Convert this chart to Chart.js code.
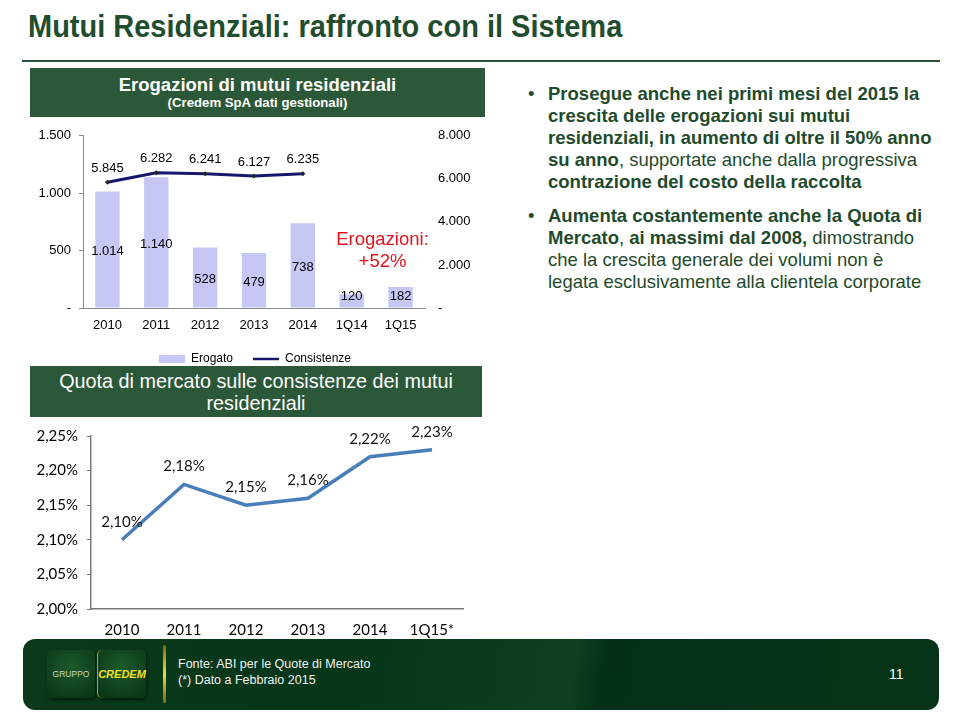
<!DOCTYPE html>
<html>
<head>
<meta charset="utf-8">
<script src="https://cdn.jsdelivr.net/npm/chart.js@4.4.1/dist/chart.umd.min.js"></script>
<style>
  html, body { margin:0; padding:0; background:#fff; }
  body { width:960px; height:720px; position:relative; overflow:hidden; font-family:"Liberation Sans", Arial, sans-serif; }
  .abs { position:absolute; }
  #title { left:28px; top:11px; font-family:"Liberation Sans Narrow","Liberation Sans",sans-serif; font-weight:bold; font-size:31px; line-height:31px; color:#1f4d2e; white-space:nowrap; transform:scaleX(0.935); transform-origin:0 0; }
  #rule { left:22px; top:60px; width:918px; height:2px; background:#2a4f36; }
  .hdr { background:#2b5838; color:#fff; text-align:center; white-space:nowrap; }
  #hdr1 { left:30px; top:68px; width:455px; height:49px; }
  #hdr1 .t1 { font-weight:bold; font-size:18.5px; line-height:21px; margin-top:6px; }
  #hdr1 .t2 { font-weight:bold; font-size:13.2px; line-height:16px; }
  #hdr2 { left:30px; top:366px; width:452px; height:51px; font-size:19.8px; line-height:22px; }
  #hdr2 div:first-child { margin-top:4px; }
  #red { left:320px; top:228px; width:125px; text-align:center; color:#e0141e; font-size:18.5px; line-height:22px; }
  #txt { left:528px; top:83px; color:#1f4a2c; font-size:18.5px; line-height:22px; white-space:nowrap; }
  #txt .b { font-weight:bold; }
  #txt .item { position:relative; padding-left:20px; }
  #txt .item::before { content:"\2022"; position:absolute; left:0; top:0; }
  #footer { left:23px; top:639px; width:916px; height:71px; border-radius:12px;
    background:linear-gradient(100deg,#0a3a1a 0%,#06361a 35%,#0c4020 60%,#04301a 63%,#053417 100%); }
  .logo { top:650px; width:48px; height:48px; border-radius:5px; background:radial-gradient(circle at 50% 35%,#1c5a2a,#0b3a18 80%); box-shadow:1px 2px 3px rgba(0,0,0,0.5); text-align:center; line-height:48px; }
  #lg1 { left:47px; color:#c9d6c6; font-size:8.5px; font-family:"Liberation Sans Narrow",sans-serif; }
  #lg2 { left:97px; color:#f0e020; font-size:11px; font-weight:bold; font-style:italic; border-left:1px solid #b8a520; }
  #ybar { left:163px; top:645px; width:3px; height:58px; background:linear-gradient(#7a6a10,#f0d840 50%,#7a6a10); border-radius:2px; }
  #fnote { left:178px; top:656px; color:#f2f2f2; font-family:"Liberation Sans Narrow","Liberation Sans",sans-serif; font-size:12.5px; line-height:16px; white-space:nowrap; }
  #pnum { left:889px; top:666px; color:#fff; font-size:14px; }
</style>
</head>
<body>
<div id="title" class="abs">Mutui Residenziali: raffronto con il Sistema</div>
<div id="rule" class="abs"></div>
<div id="hdr1" class="abs hdr"><div class="t1">Erogazioni di mutui residenziali</div><div class="t2">(Credem SpA dati gestionali)</div></div>

<div class="abs" style="left:25px;top:120px;width:460px;height:255px;"><canvas id="c1"></canvas></div>
<div id="red" class="abs">Erogazioni:<br>+52%</div>

<div id="hdr2" class="abs hdr"><div>Quota di mercato sulle consistenze dei mutui</div><div>residenziali</div></div>
<div class="abs" style="left:25px;top:418px;width:455px;height:227px;"><canvas id="c2"></canvas></div>

<div id="txt" class="abs">
  <div class="item"><span class="b">Prosegue anche nei primi mesi del 2015 la</span><br>
  <span class="b">crescita delle erogazioni sui mutui</span><br>
  <span class="b">residenziali, in aumento di oltre il 50% anno</span><br>
  <span class="b">su anno</span>, supportate anche dalla progressiva<br>
  <span class="b">contrazione del costo della raccolta</span></div>
  <div class="item" style="margin-top:12px;"><span class="b">Aumenta costantemente anche la Quota di</span><br>
  <span class="b">Mercato</span>, <span class="b">ai massimi dal 2008,</span> dimostrando<br>
  che la crescita generale dei volumi non è<br>
  legata esclusivamente alla clientela corporate</div>
</div>

<div id="footer" class="abs"></div>
<div id="lg1" class="abs logo">GRUPPO</div>
<div id="lg2" class="abs logo">CREDEM</div>
<div id="ybar" class="abs"></div>
<div id="fnote" class="abs">Fonte: ABI per le Quote di Mercato<br>(*) Dato a Febbraio 2015</div>
<div id="pnum" class="abs">11</div>

<script>
// ---- Data: top chart ----
const periods = ['2010','2011','2012','2013','2014','1Q14','1Q15'];
const erogato = [1014, 1140, 528, 479, 738, 120, 182];
const consistenze = [5845, 6282, 6241, 6127, 6235, null, null];
const leftTicks = [0, 500, 1000, 1500];
const rightTicks = [0, 2000, 4000, 6000, 8000];

// ---- Data: bottom chart ----
const years = ['2010','2011','2012','2013','2014','1Q15*'];
const quota = [2.10, 2.18, 2.15, 2.16, 2.22, 2.23];

const fmt = v => v === 0 ? '-' : String(v).replace(/\B(?=(\d{3})+(?!\d))/g, '.');
const pct = v => v.toFixed(2).replace('.', ',') + '%';

const labelPlugin1 = {
  id: 'labels1',
  afterDatasetsDraw(chart) {
    const ctx = chart.ctx;
    ctx.save();
    ctx.font = '13px "Liberation Sans", Arial, sans-serif';
    ctx.fillStyle = '#000';
    ctx.textAlign = 'center';
    ctx.textBaseline = 'middle';
    chart.getDatasetMeta(0).data.forEach((el, i) => {
      const y = Math.min((el.y + el.base) / 2 + 2, el.base - 11);
      ctx.fillText(fmt(erogato[i]), el.x, y);
    });
    chart.getDatasetMeta(1).data.forEach((el, i) => {
      if (consistenze[i] == null) return;
      ctx.fillText(fmt(consistenze[i]), el.x, el.y - 14);
    });
    ctx.restore();
  }
};

new Chart(document.getElementById('c1'), {
  type: 'bar',
  data: {
    labels: periods,
    datasets: [
      { label: 'Erogato', data: erogato, backgroundColor: '#c6c7f4', yAxisID: 'y',
        categoryPercentage: 1, barPercentage: 0.5, order: 2 },
      { type: 'line', label: 'Consistenze', data: consistenze, yAxisID: 'y1',
        borderColor: '#17176b', borderWidth: 3, pointStyle: 'rectRot', pointRadius: 2.5,
        pointBackgroundColor: '#222', pointBorderColor: '#222', pointBorderWidth: 0,
        spanGaps: false, order: 1 }
    ]
  },
  options: {
    responsive: true, maintainAspectRatio: false, animation: false,
    layout: { padding: { top: 8, bottom: 0, left: 0, right: 0 } },
    plugins: {
      tooltip: { enabled: false },
      legend: {
        position: 'bottom',
        labels: {
          font: { size: 12, family: '"Liberation Sans", Arial, sans-serif' }, color: '#000',
          usePointStyle: true, pointStyleWidth: 26, boxHeight: 8, padding: 20,
          generateLabels: () => [
            { text: 'Erogato', fillStyle: '#c6c7f4', strokeStyle: '#c6c7f4', lineWidth: 0, pointStyle: 'rect', datasetIndex: 0, fontColor: '#000' },
            { text: 'Consistenze', fillStyle: '#17176b', strokeStyle: '#17176b', lineWidth: 2.5, pointStyle: 'line', datasetIndex: 1, fontColor: '#000' }
          ]
        }
      }
    },
    scales: {
      x: {
        offset: true,
        grid: { display: false, drawTicks: false },
        border: { display: true, color: '#8a8a8a', width: 1 },
        ticks: { font: { size: 13, family: '"Liberation Sans", Arial, sans-serif' }, color: '#000', padding: 10, maxRotation: 0 },
        afterFit: s => { s.height = 25; }
      },
      y: {
        position: 'left', min: 0, max: 1500,
        afterBuildTicks: s => { s.ticks = leftTicks.map(v => ({ value: v })); },
        grid: { drawOnChartArea: false, tickLength: 4, color: '#8a8a8a' },
        border: { display: true, color: '#8a8a8a' },
        ticks: { callback: v => fmt(v), font: { size: 13, family: '"Liberation Sans", Arial, sans-serif' }, color: '#000', padding: 8 },
        afterFit: s => { s.width = 58; }
      },
      y1: {
        position: 'right', min: 0, max: 8000,
        afterBuildTicks: s => { s.ticks = rightTicks.map(v => ({ value: v })); },
        grid: { display: false },
        border: { display: false },
        ticks: { callback: v => fmt(v), font: { size: 13, family: '"Liberation Sans", Arial, sans-serif' }, color: '#000', padding: 5 },
        afterFit: s => { s.width = 60; }
      }
    }
  },
  plugins: [labelPlugin1]
});

const labelPlugin2 = {
  id: 'labels2',
  afterDatasetsDraw(chart) {
    const ctx = chart.ctx;
    ctx.save();
    ctx.font = '15px Lato, "Open Sans", sans-serif';
    ctx.fillStyle = '#111';
    ctx.textAlign = 'center';
    ctx.textBaseline = 'middle';
    chart.getDatasetMeta(0).data.forEach((el, i) => {
      ctx.fillText(pct(quota[i]), el.x, el.y - 18);
    });
    ctx.restore();
  }
};

new Chart(document.getElementById('c2'), {
  type: 'line',
  data: {
    labels: years,
    datasets: [{ label: 'Quota', data: quota, borderColor: '#4a7ebb', borderWidth: 3.5, pointRadius: 0, tension: 0 }]
  },
  options: {
    responsive: true, maintainAspectRatio: false, animation: false,
    layout: { padding: { top: 12, right: 17, left: 0, bottom: 0 } },
    plugins: { legend: { display: false }, tooltip: { enabled: false } },
    scales: {
      x: {
        offset: true,
        grid: { display: false, drawTicks: false },
        border: { display: true, color: '#777', width: 1.5 },
        ticks: { font: { size: 15, family: 'Lato, "Open Sans", sans-serif' }, color: '#000', padding: 12, maxRotation: 0 },
        afterFit: s => { s.height = 36; }
      },
      y: {
        min: 2.0, max: 2.25,
        ticks: { stepSize: 0.05, callback: v => pct(v), font: { size: 15, family: 'Lato, "Open Sans", sans-serif' }, color: '#000', padding: 9 },
        grid: { drawOnChartArea: false, tickLength: 4, color: '#777' },
        border: { display: true, color: '#777', width: 1.5 },
        afterFit: s => { s.width = 66; }
      }
    }
  },
  plugins: [labelPlugin2]
});
</script>
</body>
</html>
